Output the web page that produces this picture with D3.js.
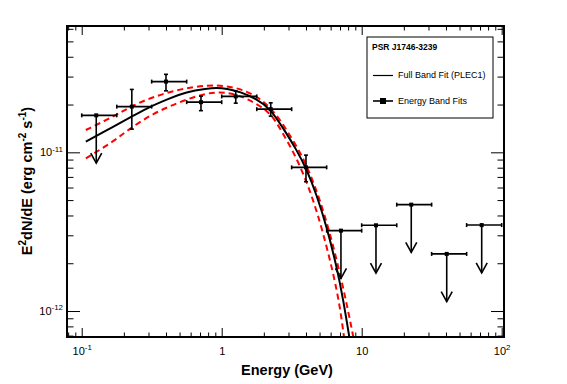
<!DOCTYPE html>
<html>
<head>
<meta charset="utf-8">
<script src="https://cdn.jsdelivr.net/npm/d3@7"></script>
<style>
  body { margin: 0; background: #fff; }
  svg { font-family: "Liberation Sans", Arial, sans-serif; }
</style>
</head>
<body>
<div id="chart"></div>
<script>
// energy band fits (GeV, erg cm^-2 s^-1)
const energy = [0.127, 0.228, 0.40, 0.711, 1.26, 2.24, 4.0, 7.11, 12.65, 22.6, 40.5, 72.0];
const binLo  = [0.1, 0.178, 0.316, 0.562, 1.0, 1.78, 3.16, 5.62, 10, 17.8, 31.6, 56.2];
const binHi  = [0.178, 0.316, 0.562, 1.0, 1.78, 3.16, 5.62, 10, 17.8, 31.6, 56.2, 100];
const flux   = [1.71e-11, 1.94e-11, 2.79e-11, 2.07e-11, 2.25e-11, 1.87e-11, 8.04e-12, 3.21e-12, 3.47e-12, 4.68e-12, 2.29e-12, 3.48e-12];
const fluxHi = [null, 2.49e-11, 3.10e-11, 2.26e-11, 2.43e-11, 2.05e-11, 9.6e-12, null, null, null, null, null];
const fluxLo = [null, 1.40e-11, 2.44e-11, 1.83e-11, 2.04e-11, 1.69e-11, 6.53e-12, null, null, null, null, null];
const upperLimit = [true, false, false, false, false, false, false, true, true, true, true, true];

// full band fit (PLEC1)
const fitE = [0.107, 0.168, 0.225, 0.291, 0.405, 0.562, 0.781, 0.92, 1.086, 1.351, 1.778, 2.213, 2.754, 3.434, 4.047, 4.77, 5.62, 6.63, 7.39, 8.15];
const fitF = [1.166e-11, 1.45e-11, 1.67e-11, 1.894e-11, 2.15e-11, 2.41e-11, 2.52e-11, 2.55e-11, 2.52e-11, 2.41e-11, 2.17e-11, 1.894e-11, 1.416e-11, 1.034e-11, 7.81e-12, 5.38e-12, 3.40e-12, 1.90e-12, 1.173e-12, 6.89e-13];

// error band, upper and lower dashed lines
const bandHiE = [0.107, 0.168, 0.2276, 0.3246, 0.5036, 0.781, 1.086, 1.509, 2.0, 2.471, 2.912, 3.625, 4.273, 5.037, 5.937, 6.998, 7.89, 8.71];
const bandHiF = [1.382e-11, 1.676e-11, 1.958e-11, 2.24e-11, 2.505e-11, 2.656e-11, 2.629e-11, 2.444e-11, 2.105e-11, 1.718e-11, 1.382e-11, 1.009e-11, 7.37e-12, 5.0e-12, 3.09e-12, 1.728e-12, 1.064e-12, 6.89e-13];
const bandLoE = [0.107, 0.168, 0.2213, 0.3246, 0.5036, 0.781, 1.086, 1.509, 2.213, 2.609, 3.246, 3.827, 4.511, 5.318, 6.27, 7.0, 7.47];
const bandLoF = [9.17e-12, 1.166e-11, 1.416e-11, 1.761e-11, 2.084e-11, 2.375e-11, 2.41e-11, 2.20e-11, 1.802e-11, 1.416e-11, 1.009e-11, 7.37e-12, 5.0e-12, 3.09e-12, 1.728e-12, 1.064e-12, 6.89e-13];

// tick labels
const xTicks = [0.1, 1, 10, 100];
const xTickBase = ["10", "1", "10", "10"];
const xTickSup = ["-1", "", "", "2"];
const yTicks = [1e-12, 1e-11];
const yTickBase = ["10", "10"];
const yTickSup = ["-12", "-11"];

const W = 567, H = 384;
const mL = 67, mR = 504, mT = 26, mB = 337;

const svg = d3.select("#chart").append("svg")
  .attr("width", W)
  .attr("height", H);

const x = d3.scaleLog().domain([0.0785, 103.9]).range([mL, mR]);
const y = d3.scaleLog().domain([6.86e-13, 6.25e-11]).range([mB, mT]);

const isMajor = v => Math.abs(Math.log10(v) - Math.round(Math.log10(v))) < 1e-6;
const xMinor = x.ticks().filter(v => !isMajor(v));
const yMinor = y.ticks().filter(v => !isMajor(v));

function styleAxis(g) {
  g.attr("font-size", null).attr("font-family", null);
  g.select(".domain").remove();
  g.selectAll(".tick line").attr("stroke", "#000").attr("stroke-width", 1);
}

// superscript labels like ROOT
function supLabel(text, base, sup, size) {
  text.text(null);
  text.append("tspan").text(base);
  if (sup) {
    text.append("tspan")
      .attr("font-size", size * 0.72)
      .attr("dy", -size * 0.42)
      .text(sup);
  }
}

// bottom + top ticks
[[d3.axisBottom, mB], [d3.axisTop, mT]].forEach(([ax, pos]) => {
  svg.append("g").attr("transform", `translate(0,${pos})`)
    .call(ax(x).tickValues(xMinor).tickSize(-4.5).tickFormat(""))
    .call(styleAxis);
});
svg.append("g").attr("transform", `translate(0,${mT})`)
  .call(d3.axisTop(x).tickValues(xTicks).tickSize(-9).tickFormat(""))
  .call(styleAxis);
const xAxis = svg.append("g").attr("transform", `translate(0,${mB})`)
  .call(d3.axisBottom(x).tickValues(xTicks).tickSize(-9))
  .call(styleAxis);
xAxis.selectAll(".tick text")
  .attr("y", 18).attr("dy", null)
  .attr("font-size", 11).attr("fill", "#000")
  .each(function(d) {
    const i = xTicks.indexOf(d);
    supLabel(d3.select(this), xTickBase[i], xTickSup[i], 11);
  });

// left + right ticks
[[d3.axisLeft, mL], [d3.axisRight, mR]].forEach(([ax, pos]) => {
  svg.append("g").attr("transform", `translate(${pos},0)`)
    .call(ax(y).tickValues(yMinor).tickSize(-6.5).tickFormat(""))
    .call(styleAxis);
});
svg.append("g").attr("transform", `translate(${mR},0)`)
  .call(d3.axisRight(y).tickValues(yTicks).tickSize(-13).tickFormat(""))
  .call(styleAxis);
const yAxis = svg.append("g").attr("transform", `translate(${mL},0)`)
  .call(d3.axisLeft(y).tickValues(yTicks).tickSize(-13))
  .call(styleAxis);
yAxis.selectAll(".tick text")
  .attr("x", -4).attr("dy", "0.32em")
  .attr("font-size", 11).attr("fill", "#000")
  .each(function(d) {
    const i = yTicks.indexOf(d);
    supLabel(d3.select(this), yTickBase[i], yTickSup[i], 11);
  });

// clip for the curves
svg.append("clipPath").attr("id", "plot")
  .append("rect")
  .attr("x", mL).attr("y", mT)
  .attr("width", mR - mL).attr("height", mB - mT);

// smooth through the read points
const line = d3.line()
  .x(d => x(d[0]))
  .y(d => y(d[1]))
  .curve(d3.curveBasis);

const curves = svg.append("g").attr("clip-path", "url(#plot)");
curves.append("path")
  .datum(d3.zip(bandHiE, bandHiF))
  .attr("d", line)
  .attr("fill", "none").attr("stroke", "#ff0000")
  .attr("stroke-width", 2).attr("stroke-dasharray", "6,4");
curves.append("path")
  .datum(d3.zip(bandLoE, bandLoF))
  .attr("d", line)
  .attr("fill", "none").attr("stroke", "#ff0000")
  .attr("stroke-width", 2).attr("stroke-dasharray", "6,4");
curves.append("path")
  .datum(d3.zip(fitE, fitF))
  .attr("d", line)
  .attr("fill", "none").attr("stroke", "#000")
  .attr("stroke-width", 2);

// energy band points
const pts = energy.map((e, i) => ({
  e: e, lo: binLo[i], hi: binHi[i], f: flux[i],
  fHi: fluxHi[i], fLo: fluxLo[i], ul: upperLimit[i]
}));

const cap = 2;
const pg = svg.append("g").attr("stroke", "#000").attr("stroke-width", 1.6).attr("fill", "none");

pts.forEach(p => {
  const g = pg.append("g");
  const cx = x(p.e), cy = y(p.f);
  // energy bin
  g.append("line").attr("x1", x(p.lo)).attr("x2", x(p.hi)).attr("y1", cy).attr("y2", cy);
  g.append("line").attr("x1", x(p.lo)).attr("x2", x(p.lo)).attr("y1", cy - cap).attr("y2", cy + cap);
  g.append("line").attr("x1", x(p.hi)).attr("x2", x(p.hi)).attr("y1", cy - cap).attr("y2", cy + cap);
  if (p.ul) {
    const ty = y(p.f * 0.5);
    g.append("line").attr("x1", cx).attr("x2", cx).attr("y1", cy).attr("y2", ty);
    g.append("polyline")
      .attr("points", `${cx - 5.5},${ty - 10} ${cx},${ty} ${cx + 5.5},${ty - 10}`);
  } else {
    g.append("line").attr("x1", cx).attr("x2", cx).attr("y1", y(p.fHi)).attr("y2", y(p.fLo));
    g.append("line").attr("x1", cx - cap).attr("x2", cx + cap).attr("y1", y(p.fHi)).attr("y2", y(p.fHi));
    g.append("line").attr("x1", cx - cap).attr("x2", cx + cap).attr("y1", y(p.fLo)).attr("y2", y(p.fLo));
  }
  g.append("rect")
    .attr("x", cx - 2).attr("y", cy - 2)
    .attr("width", 4).attr("height", 4)
    .attr("fill", "#000").attr("stroke", "none");
});

// frame
svg.append("rect")
  .attr("x", mL).attr("y", mT)
  .attr("width", mR - mL).attr("height", mB - mT)
  .attr("fill", "none").attr("stroke", "#000").attr("stroke-width", 2);

// axis titles
svg.append("text")
  .attr("x", 287).attr("y", 375)
  .attr("text-anchor", "middle")
  .attr("font-size", 14.5).attr("font-weight", "bold")
  .text("Energy (GeV)");

const yt = svg.append("text")
  .attr("transform", "translate(32,181) rotate(-90)")
  .attr("text-anchor", "middle")
  .attr("font-size", 14.5).attr("font-weight", "bold");
yt.append("tspan").text("E");
yt.append("tspan").attr("font-size", 10).attr("dy", -6).text("2");
yt.append("tspan").attr("dy", 6).text("dN/dE (erg cm");
yt.append("tspan").attr("font-size", 10).attr("dy", -6).text("-2");
yt.append("tspan").attr("dy", 6).text(" s");
yt.append("tspan").attr("font-size", 10).attr("dy", -6).text("-1");
yt.append("tspan").attr("dy", 6).text(")");

// legend
const lg = svg.append("g");
lg.append("rect")
  .attr("x", 367).attr("y", 37)
  .attr("width", 126).attr("height", 81)
  .attr("fill", "#fff").attr("stroke", "#000").attr("stroke-width", 1);
lg.append("text")
  .attr("x", 372).attr("y", 50)
  .attr("font-size", 8.5).attr("font-weight", "bold")
  .text("PSR J1746-3239");
lg.append("line")
  .attr("x1", 373).attr("x2", 393).attr("y1", 75.5).attr("y2", 75.5)
  .attr("stroke", "#000").attr("stroke-width", 1.2);
lg.append("text")
  .attr("x", 398).attr("y", 78)
  .attr("font-size", 9)
  .text("Full Band Fit (PLEC1)");
lg.append("line")
  .attr("x1", 373).attr("x2", 393).attr("y1", 101).attr("y2", 101)
  .attr("stroke", "#000").attr("stroke-width", 1.6);
lg.append("rect")
  .attr("x", 380).attr("y", 98).attr("width", 6).attr("height", 6)
  .attr("fill", "#000");
lg.append("text")
  .attr("x", 398).attr("y", 104)
  .attr("font-size", 9)
  .text("Energy Band Fits");
</script>
</body>
</html>
